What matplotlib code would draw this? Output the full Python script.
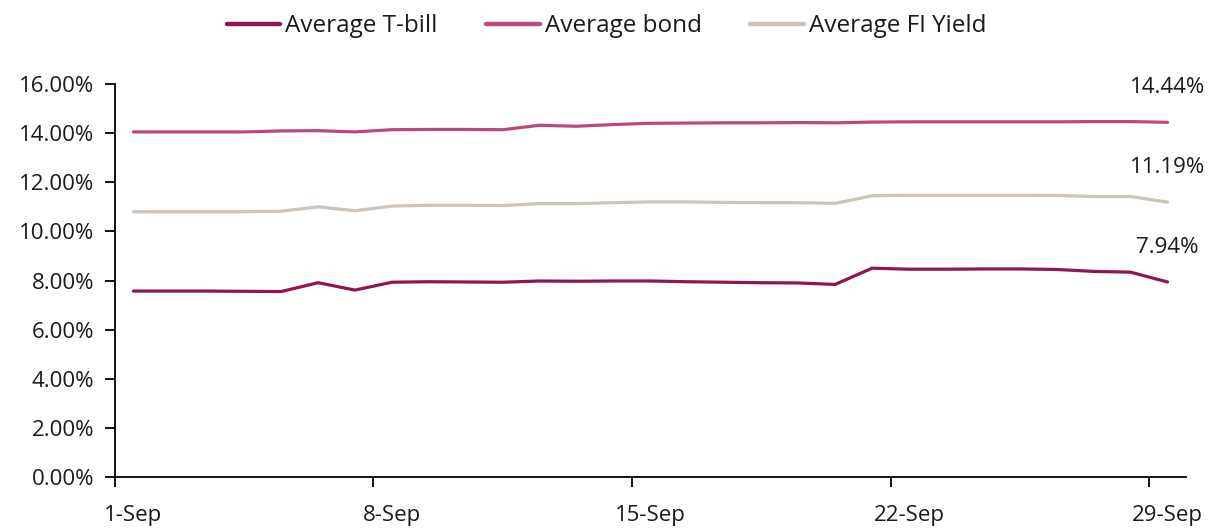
import matplotlib
matplotlib.use("Agg")
import matplotlib.pyplot as plt
from matplotlib.ticker import FixedLocator, FuncFormatter
import numpy as np

plt.rcParams['font.family'] = ['Open Sans', 'DejaVu Sans']

days = list(range(1, 30))
tick_days = [1, 8, 15, 22, 29]
tick_labels = ["1-Sep", "8-Sep", "15-Sep", "22-Sep", "29-Sep"]

tbill = [7.57, 7.57, 7.57, 7.56, 7.55, 7.91, 7.61, 7.93, 7.95, 7.94,
         7.93, 7.98, 7.97, 7.98, 7.98, 7.95, 7.93, 7.91, 7.90, 7.84,
         8.50, 8.46, 8.46, 8.47, 8.47, 8.45, 8.37, 8.34, 7.94]
bond = [14.05, 14.05, 14.05, 14.05, 14.09, 14.10, 14.05, 14.14, 14.15, 14.15,
        14.14, 14.32, 14.28, 14.35, 14.40, 14.41, 14.42, 14.42, 14.43, 14.42,
        14.45, 14.46, 14.46, 14.46, 14.46, 14.46, 14.47, 14.47, 14.44]
fi_yield = [10.80, 10.80, 10.80, 10.80, 10.82, 11.00, 10.84, 11.03, 11.06, 11.06,
            11.05, 11.13, 11.13, 11.17, 11.20, 11.20, 11.18, 11.17, 11.17, 11.14,
            11.45, 11.47, 11.47, 11.47, 11.47, 11.46, 11.42, 11.42, 11.19]

series = [("Average T-bill", tbill, "#8E1652"),
          ("Average bond", bond, "#BA4A7C"),
          ("Average FI Yield", fi_yield, "#CDC3B9")]

fig = plt.figure(figsize=(12.13, 5.29), dpi=100)
ax = fig.add_axes([0.0948, 0.0983, 0.9777 - 0.0948, 0.8412 - 0.0983])

x = np.array(days) + 0.5
for name, vals, col in series:
    ax.plot(x, vals, color=col, lw=2.3, label=name, solid_joinstyle='round', solid_capstyle='round')
    ax.annotate(f"{vals[-1]:.2f}%", xy=(x[-1], vals[-1]), xytext=(0, 25),
                textcoords='offset points', ha='center', va='center', fontsize=16, color='#1a1a1a')

ax.set_xlim(1, 30)
ax.set_ylim(0, 16)
ax.set_yticks(np.arange(0, 16.1, 2))
ax.yaxis.set_major_formatter(FuncFormatter(lambda v, p: f"{v:.2f}%"))

ax.xaxis.set_major_locator(FixedLocator(tick_days))
ax.xaxis.set_minor_locator(FixedLocator(np.array(tick_days) + 0.5))
ax.set_xticklabels([], minor=False)
ax.set_xticklabels(tick_labels, minor=True)
ax.tick_params(axis='x', which='major', length=7, width=1.3, direction='out', color='black')
ax.tick_params(axis='x', which='minor', length=0, pad=20, labelsize=16, labelcolor='#1a1a1a')
ax.tick_params(axis='y', length=7, width=1.3, direction='out', pad=8, labelsize=16, labelcolor='#1a1a1a')

for s in ['top', 'right']:
    ax.spines[s].set_visible(False)
for s in ['left', 'bottom']:
    ax.spines[s].set_linewidth(1.3)
    ax.spines[s].set_color('black')

leg = fig.legend(loc='center', bbox_to_anchor=(0.5, 0.95), ncol=3, frameon=False,
                 fontsize=17.5, handlelength=2.2, handletextpad=0.2, columnspacing=2.0)
for t in leg.get_texts():
    t.set_color('#1a1a1a')
for h in leg.get_lines():
    h.set_linewidth(3.2)

fig.savefig("out.png", dpi=100)
